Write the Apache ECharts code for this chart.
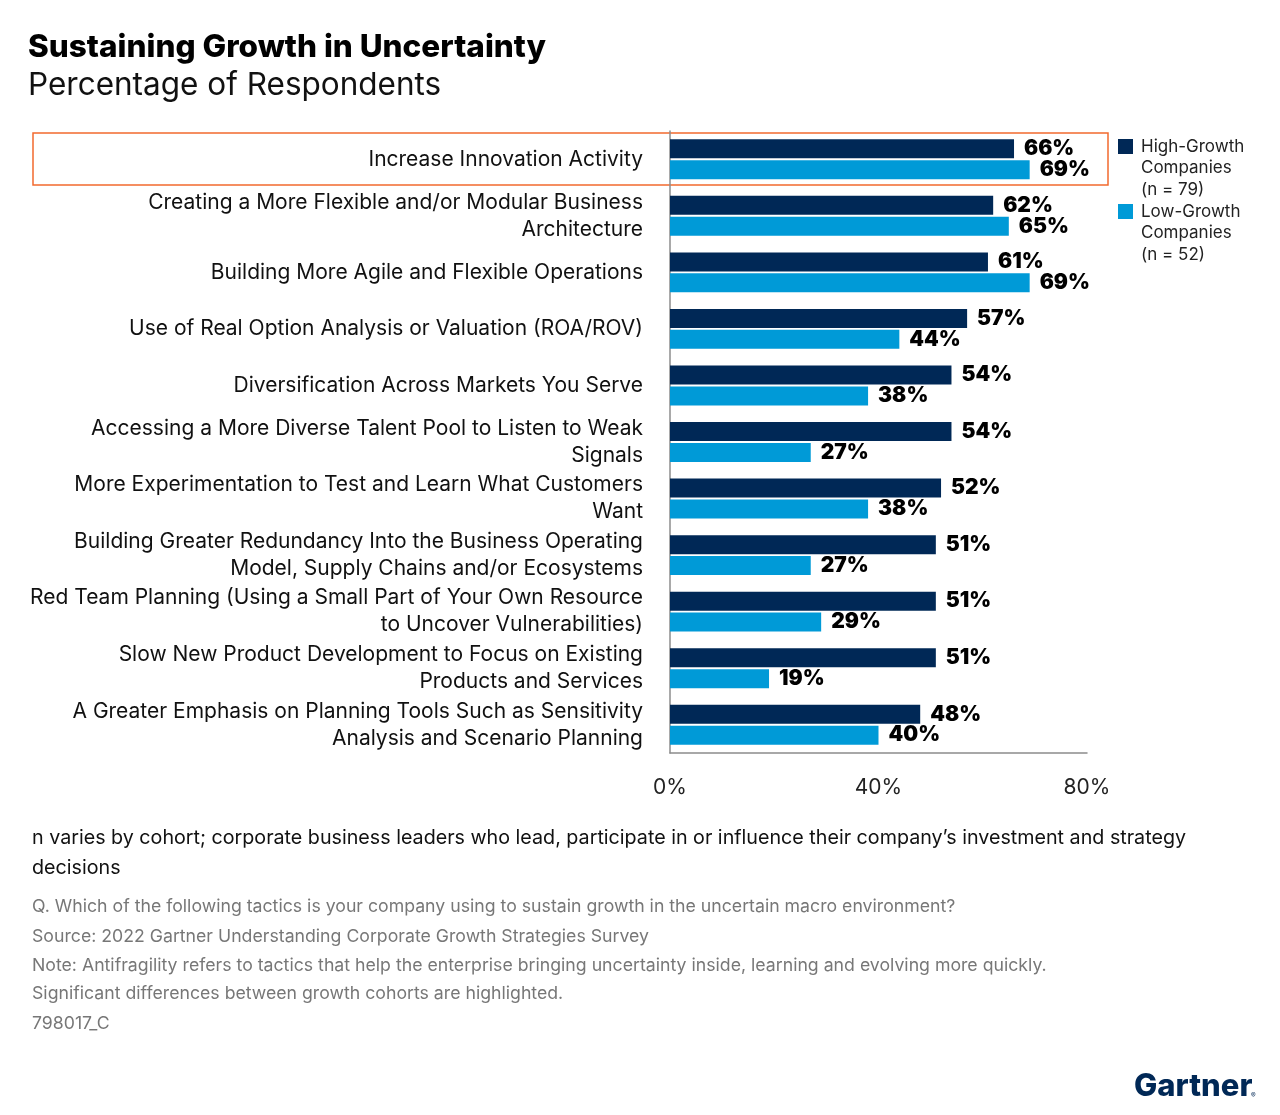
<!DOCTYPE html>
<html>
<head>
<meta charset="utf-8">
<script src="https://cdn.jsdelivr.net/npm/echarts@6/dist/echarts.min.js"></script>
<style>
  html, body { margin: 0; padding: 0; background: #fff; }
  #chart { width: 1280px; height: 1115px; }
</style>
</head>
<body>
<div id="chart"></div>
<script>
// tactics, top to bottom
var categories = [
  'Increase Innovation Activity',
  'Creating a More Flexible and/or Modular Business\nArchitecture',
  'Building More Agile and Flexible Operations',
  'Use of Real Option Analysis or Valuation (ROA/ROV)',
  'Diversification Across Markets You Serve',
  'Accessing a More Diverse Talent Pool to Listen to Weak\nSignals',
  'More Experimentation to Test and Learn What Customers\nWant',
  'Building Greater Redundancy Into the Business Operating\nModel, Supply Chains and/or Ecosystems',
  'Red Team Planning (Using a Small Part of Your Own Resource\nto Uncover Vulnerabilities)',
  'Slow New Product Development to Focus on Existing\nProducts and Services',
  'A Greater Emphasis on Planning Tools Such as Sensitivity\nAnalysis and Scenario Planning'
];
var highGrowth = [66, 62, 61, 57, 54, 54, 52, 51, 51, 51, 48];
var lowGrowth = [69, 65, 69, 44, 38, 27, 38, 27, 29, 19, 40];
var seriesNames = ['High-Growth\nCompanies\n(n = 79)', 'Low-Growth\nCompanies\n(n = 52)'];
var xTicks = [0, 40, 80];

var FONT = 'Inter, Roboto, sans-serif';
var NAVY = '#002856';
var BLUE = '#009AD7';

var chart = echarts.init(document.getElementById('chart'), null, { renderer: 'canvas' });

var barLabel = {
  show: true,
  position: 'right',
  distance: 10,
  formatter: '{c}%',
  color: '#000',
  fontFamily: FONT,
  fontWeight: 900,
  fontSize: 21
};

chart.setOption({
  animation: false,
  backgroundColor: '#fff',
  grid: { left: 670, right: 193, top: 131, bottom: 362 },
  xAxis: {
    type: 'value',
    min: 0,
    max: 80,
    interval: 40,
    splitLine: { show: false },
    axisTick: { show: false },
    axisLine: { show: true, lineStyle: { color: '#8c8c8c', width: 1.5 } },
    axisLabel: {
      margin: 24,
      color: '#222',
      fontFamily: FONT,
      fontSize: 21,
      formatter: function (v) { return xTicks.indexOf(v) >= 0 ? v + '%' : ''; }
    }
  },
  yAxis: {
    type: 'category',
    inverse: true,
    data: categories,
    axisTick: { show: false },
    axisLine: { show: true, lineStyle: { color: '#8c8c8c', width: 1.5 } },
    axisLabel: {
      margin: 27,
      color: '#111',
      fontFamily: FONT,
      fontSize: 21,
      lineHeight: 27,
      align: 'right'
    }
  },
  series: [
    {
      name: seriesNames[0],
      type: 'bar',
      data: highGrowth,
      barWidth: 19,
      barGap: '10%',
      itemStyle: { color: NAVY },
      label: barLabel
    },
    {
      name: seriesNames[1],
      type: 'bar',
      data: lowGrowth,
      barWidth: 19,
      barGap: '10%',
      itemStyle: { color: BLUE },
      label: barLabel
    }
  ],
  graphic: [
    { type: 'text', left: 28, top: 32, style: { text: 'Sustaining Growth in Uncertainty', fill: '#000', font: '800 31.5px ' + FONT } },
    { type: 'text', left: 28, top: 70, style: { text: 'Percentage of Respondents', fill: '#111', font: '400 31.5px ' + FONT } },
    // highlight box around significant row
    { type: 'rect', shape: { x: 33, y: 133, width: 1075, height: 52 }, style: { fill: 'none', stroke: '#F26A2E', lineWidth: 1.5 } },
    // legend
    { type: 'rect', shape: { x: 1118, y: 139, width: 15, height: 15 }, style: { fill: NAVY } },
    { type: 'text', left: 1141, top: 136, style: { text: seriesNames[0], fill: '#222', font: '400 17px ' + FONT, lineHeight: 21.5 } },
    { type: 'rect', shape: { x: 1118, y: 204, width: 15, height: 15 }, style: { fill: BLUE } },
    { type: 'text', left: 1141, top: 201, style: { text: seriesNames[1], fill: '#222', font: '400 17px ' + FONT, lineHeight: 21.5 } },
    // footnotes
    { type: 'text', left: 32, top: 823, style: { text: 'n varies by cohort; corporate business leaders who lead, participate in or influence their company\u2019s investment and strategy\ndecisions', fill: '#111', font: '400 19.7px ' + FONT, lineHeight: 30 } },
    { type: 'text', left: 32, top: 898, style: { text: 'Q. Which of the following tactics is your company using to sustain growth in the uncertain macro environment?', fill: '#777', font: '400 17.7px ' + FONT } },
    { type: 'text', left: 32, top: 928, style: { text: 'Source: 2022 Gartner Understanding Corporate Growth Strategies Survey', fill: '#777', font: '400 17.7px ' + FONT } },
    { type: 'text', left: 32, top: 957, style: { text: 'Note: Antifragility refers to tactics that help the enterprise bringing uncertainty inside, learning and evolving more quickly.', fill: '#777', font: '400 17.7px ' + FONT } },
    { type: 'text', left: 32, top: 985, style: { text: 'Significant differences between growth cohorts are highlighted.', fill: '#777', font: '400 17.7px ' + FONT } },
    { type: 'text', left: 32, top: 1015, style: { text: '798017_C', fill: '#777', font: '400 17.7px ' + FONT } },
    // brand mark
    { type: 'text', left: 1134, top: 1071, style: { text: 'Gartner', fill: '#002856', font: '800 31px ' + FONT } },
    { type: 'text', left: 1251, top: 1092, style: { text: '\u00AE', fill: '#002856', font: '400 7px ' + FONT } }
  ]
});
</script>
</body>
</html>
